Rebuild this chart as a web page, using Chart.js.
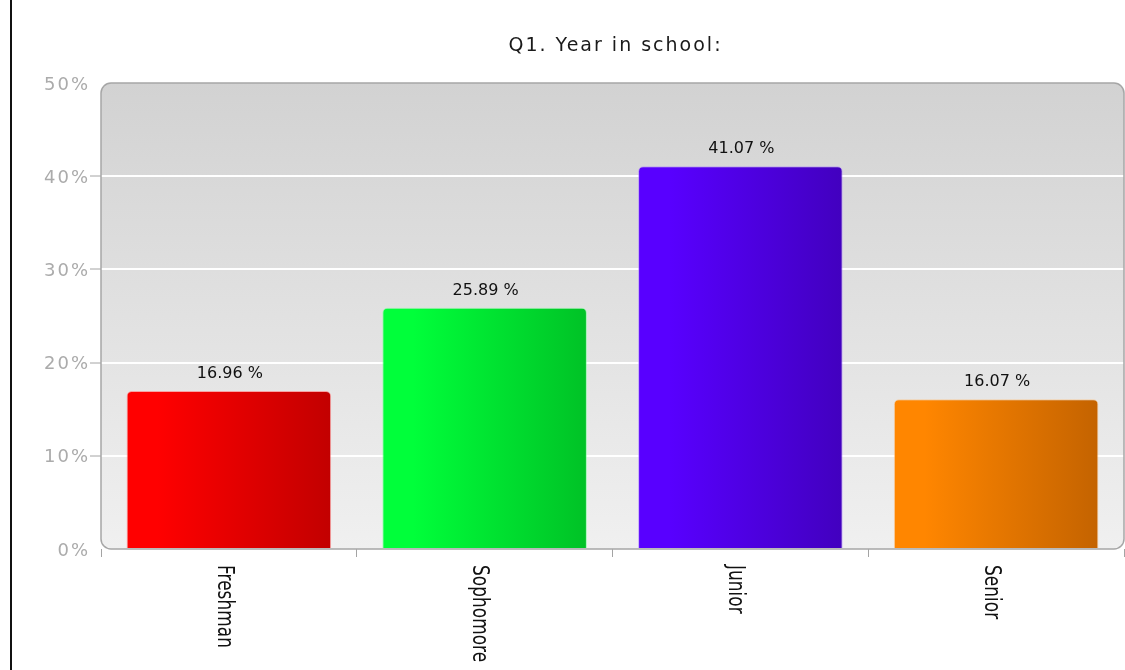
<!DOCTYPE html>
<html>
<head>
<meta charset="utf-8">
<title>Q1. Year in school</title>
<script src="https://cdn.jsdelivr.net/npm/chart.js@4.4.1/dist/chart.umd.min.js"></script>
<style>
  html, body { margin: 0; padding: 0; background: #ffffff; }
  #wrap { position: relative; width: 1125px; height: 670px; overflow: hidden; }
  #edge { position: absolute; left: 10px; top: 0; width: 2px; height: 670px; background: #111111; }
  #yearChart { position: absolute; left: 0; top: 0; }
</style>
</head>
<body>
<div id="wrap">
  <canvas id="yearChart" width="1125" height="670"></canvas>
  <div id="edge"></div>
</div>
<script>
// Survey answers, percent of respondents
const chartTitle = 'Q1. Year in school:';
const categories = ['Freshman', 'Sophomore', 'Junior', 'Senior'];
const shares = [16.96, 25.89, 41.07, 16.07];
const yTickValues = [0, 10, 20, 30, 40, 50];

// Each bar shades from a bright left edge to a darker right edge
const barLight = ['#ff0000', '#00ff3a', '#5800ff', '#ff8600'];
const barDark = ['#c20000', '#00c226', '#4200bf', '#c46300'];
const barEdge = ['rgba(255,120,120,0.6)', 'rgba(120,255,150,0.6)', 'rgba(170,130,255,0.6)', 'rgba(255,190,120,0.6)'];

const BAR_SHARE = 0.8;
const FONT = '"DejaVu Sans", Verdana, sans-serif';

function barFill(context) {
    const i = context.dataIndex;
    if (context.type !== 'data') return 'transparent';
    const chart = context.chart;
    const xScale = chart.scales.x;
    if (!xScale || !chart.chartArea) return barLight[i];

    const cx = xScale.getPixelForValue(i);
    const half = (xScale.width / categories.length) * BAR_SHARE / 2;
    const g = chart.ctx.createLinearGradient(cx - half, 0, cx + half, 0);
    g.addColorStop(0, barLight[i]);
    g.addColorStop(0.15, barLight[i]);
    g.addColorStop(1, barDark[i]);
    return g;
}

function hiddenEnds(c) {
    return c.tick && (c.tick.value === yTickValues[0] || c.tick.value === yTickValues[yTickValues.length - 1]);
}

// Grey rounded panel behind the bars, outline drawn over the grid
const plotFrame = {
    id: 'plotFrame',
    beforeDraw(chart) {
        const { ctx, chartArea: a } = chart;
        const g = ctx.createLinearGradient(0, a.top, 0, a.bottom);
        g.addColorStop(0, '#d2d2d2');
        g.addColorStop(1, '#f0f0f0');
        ctx.save();
        ctx.beginPath();
        ctx.roundRect(a.left, a.top, a.right - a.left, a.bottom - a.top, 10);
        ctx.fillStyle = g;
        ctx.fill();
        ctx.restore();
    },
    beforeDatasetsDraw(chart) {
        const { ctx, chartArea: a } = chart;
        ctx.save();
        ctx.beginPath();
        ctx.roundRect(a.left, a.top, a.right - a.left, a.bottom - a.top, 10);
        ctx.strokeStyle = '#a6a6a6';
        ctx.lineWidth = 1.5;
        ctx.stroke();
        ctx.restore();
    }
};

// Title, axis labels and value labels
const textLayer = {
    id: 'textLayer',
    afterDraw(chart) {
        const { ctx, chartArea: a, scales } = chart;
        ctx.save();

        // title
        ctx.font = '19px ' + FONT;
        ctx.fillStyle = '#1a1a1a';
        ctx.letterSpacing = '2px';
        ctx.textAlign = 'center';
        ctx.textBaseline = 'middle';
        ctx.fillText(chartTitle, (a.left + a.right) / 2 + 3, 46);

        // y tick labels
        ctx.font = '18px ' + FONT;
        ctx.fillStyle = '#ababab';
        ctx.letterSpacing = '2px';
        ctx.textAlign = 'right';
        yTickValues.forEach(v => {
            ctx.fillText(v + '%', a.left - 11, scales.y.getPixelForValue(v) + 2);
        });

        // value above each bar
        ctx.letterSpacing = '0px';
        ctx.font = '16px ' + FONT;
        ctx.fillStyle = '#111111';
        ctx.textAlign = 'center';
        ctx.textBaseline = 'alphabetic';
        const meta = chart.getDatasetMeta(0);
        meta.data.forEach((bar, i) => {
            ctx.fillText(shares[i].toFixed(2) + ' %', bar.x + 1, bar.y - 13);
        });

        // category names, turned to read downwards
        ctx.font = '17px ' + FONT;
        ctx.textAlign = 'left';
        ctx.textBaseline = 'middle';
        categories.forEach((name, i) => {
            const x = scales.x.getPixelForValue(i) - 5;
            ctx.save();
            ctx.translate(x, a.bottom + 16);
            ctx.rotate(Math.PI / 2);
            ctx.scale(1, 1.4);
            ctx.fillText(name, 0, 0);
            ctx.restore();
        });

        ctx.restore();
    }
};

new Chart(document.getElementById('yearChart'), {
    type: 'bar',
    data: {
        labels: categories,
        datasets: [{
            data: shares,
            backgroundColor: barFill,
            borderColor: barEdge,
            borderWidth: 1,
            borderSkipped: 'bottom',
            borderRadius: { topLeft: 5, topRight: 5, bottomLeft: 0, bottomRight: 0 },
            barPercentage: BAR_SHARE,
            categoryPercentage: 1
        }]
    },
    options: {
        responsive: false,
        animation: false,
        layout: { padding: { top: 83, right: 1, bottom: 0, left: 0 } },
        plugins: {
            legend: { display: false },
            tooltip: { enabled: false },
            title: { display: false }
        },
        scales: {
            x: {
                border: { display: false },
                ticks: { display: false },
                grid: {
                    offset: true,
                    drawOnChartArea: false,
                    tickLength: 8,
                    tickColor: '#a4a4a4',
                    lineWidth: 1
                },
                afterFit: scale => { scale.height = 121; }
            },
            y: {
                min: yTickValues[0],
                max: yTickValues[yTickValues.length - 1],
                border: { display: false },
                ticks: { display: false, stepSize: 10 },
                grid: {
                    color: c => hiddenEnds(c) ? 'rgba(0,0,0,0)' : '#ffffff',
                    lineWidth: 2,
                    tickColor: c => hiddenEnds(c) ? 'rgba(0,0,0,0)' : '#a4a4a4',
                    tickWidth: 1,
                    tickLength: 11
                },
                afterFit: scale => { scale.width = 101; }
            }
        }
    },
    plugins: [plotFrame, textLayer]
});
</script>
</body>
</html>
